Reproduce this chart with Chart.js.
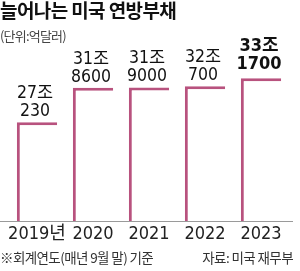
<!DOCTYPE html>
<html>
<head>
<meta charset="utf-8">
<script src="https://cdn.jsdelivr.net/npm/chart.js@4/dist/chart.umd.min.js"></script>
<style>
  body { margin: 0; background: #fff; }
  .wrap { position: relative; width: 300px; height: 271px; overflow: hidden; font-family: "Noto Sans CJK KR", sans-serif; }
  .wrap canvas { position: absolute; left: 0; top: 0; }
  .title { position: absolute; left: 0; top: -4px; font-size: 19px; font-weight: 700; color: #111; letter-spacing: -0.6px; white-space: nowrap; }
  .unit { position: absolute; left: 0; top: 26px; font-size: 13px; color: #444; letter-spacing: -0.8px; white-space: nowrap; }
  .note { position: absolute; left: 0; top: 247px; font-size: 13.5px; color: #333; letter-spacing: -0.6px; white-space: nowrap; }
  .src { position: absolute; right: 7px; top: 247px; font-size: 13.5px; color: #333; letter-spacing: -0.6px; white-space: nowrap; }
</style>
</head>
<body>
<div class="wrap">
  <canvas id="debtChart" width="300" height="271"></canvas>
  <div class="title">늘어나는 미국 연방부채</div>
  <div class="unit">(단위:억달러)</div>
  <div class="note">※회계연도(매년 9월 말) 기준</div>
  <div class="src">자료: 미국 재무부</div>
</div>
<script>
// 미국 연방부채 (억달러)
const years = ['2019년', '2020', '2021', '2022', '2023'];
const debt = [270230, 318600, 319000, 320700, 331700];

const barColor = '#b8527e';
const narrow = '"Liberation Sans Narrow", "DejaVu Sans Condensed", "Noto Sans CJK KR", sans-serif';

// 27조 / 230 처럼 두 줄로 표시
const valueLabels = {
    id: 'valueLabels',
    afterDatasetsDraw(chart) {
        const ctx = chart.ctx;
        const bars = chart.getDatasetMeta(0).data;
        ctx.save();
        ctx.textAlign = 'center';
        ctx.textBaseline = 'alphabetic';
        ctx.fillStyle = '#111';
        bars.forEach((bar, i) => {
            const v = debt[i];
            const hi = i === debt.length - 1;
            const jo = Math.floor(v / 10000) + '조';
            const rest = String(v % 10000);
            ctx.font = (hi ? 'bold 18px ' : '17.5px ') + narrow;
            const gap = hi ? 9 : 6;
            ctx.fillText(rest, bar.x - 2, bar.y - gap);
            ctx.fillText(jo, bar.x - 2, bar.y - gap - 18);
        });
        ctx.restore();
    }
};

const baseLine = {
    id: 'baseLine',
    afterDatasetsDraw(chart) {
        const ctx = chart.ctx;
        const y = Math.round(chart.chartArea.bottom) + 0.5;
        ctx.save();
        ctx.strokeStyle = '#9a9a9a';
        ctx.lineWidth = 1;
        ctx.beginPath();
        ctx.moveTo(0, y);
        ctx.lineTo(293, y);
        ctx.stroke();
        ctx.restore();
    }
};

new Chart(document.getElementById('debtChart'), {
    type: 'bar',
    data: {
        labels: years,
        datasets: [{
            data: debt,
            backgroundColor: '#ffffff',
            borderColor: barColor,
            borderWidth: { left: 3, top: 3, right: 0, bottom: 0 },
            borderSkipped: false,
            barPercentage: 0.72,
            categoryPercentage: 1
        }]
    },
    options: {
        responsive: false,
        animation: false,
        layout: { padding: { left: 9, right: 11, top: 60, bottom: 24 } },
        plugins: { legend: { display: false }, tooltip: { enabled: false } },
        scales: {
            y: { display: false, min: 132000, max: 357200 },
            x: {
                grid: { display: false, drawTicks: false, tickLength: 0 },
                border: { display: false },
                ticks: {
                    color: '#222', padding: 2, autoSkip: false, maxRotation: 0, minRotation: 0,
                    font: { family: narrow, size: 18 }
                }
            }
        }
    },
    plugins: [valueLabels, baseLine]
});
</script>
</body>
</html>
